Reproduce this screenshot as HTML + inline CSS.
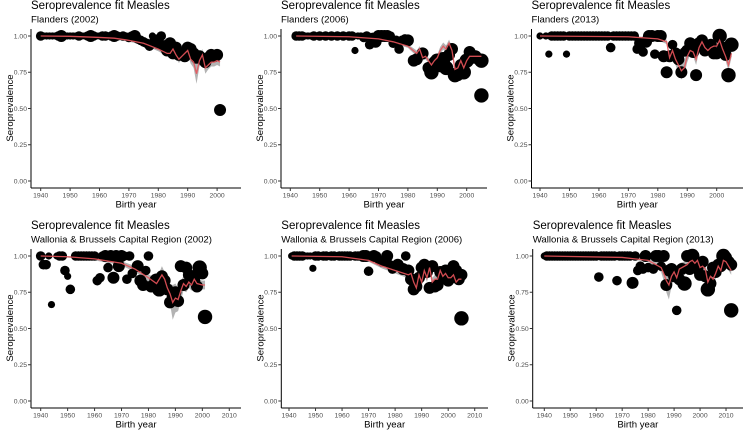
<!DOCTYPE html>
<html><head><meta charset="utf-8"><style>
body{margin:0;background:#fff;width:743px;height:430px;overflow:hidden;font-family:"Liberation Sans",Arial,sans-serif}
svg text{font-family:"Liberation Sans",Arial,sans-serif}
</style></head><body>
<svg id="c" width="743" height="430" xmlns="http://www.w3.org/2000/svg"></svg>
<script>
// Panel titles
const subtitles=["Flanders (2002)","Flanders (2006)","Flanders (2013)","Wallonia & Brussels Capital Region (2002)","Wallonia & Brussels Capital Region (2006)","Wallonia & Brussels Capital Region (2013)"];
const yTicks=[0,0.25,0.5,0.75,1.0];
const yTickLabels=["0.00","0.25","0.50","0.75","1.00"];
const xTicksTop=[1940,1950,1960,1970,1980,1990,2000];
const xTicksBottom=[1940,1950,1960,1970,1980,1990,2000,2010];

// Panel 1: Flanders 2002
const p1Years=[1940,1941,1942,1943,1944,1945,1946,1947,1948,1949,1950,1951,1952,1953,1954,1955,1956,1957,1958,1959,1960,1961,1962,1963,1964,1965,1966,1967,1968,1969,1970,1971,1972,1973,1974,1975,1976,1977,1978,1979,1980,1981,1982,1983,1984,1985,1986,1987,1988,1989,1990,1991,1992,1993,1994,1995,1996,1997,1998,1999,2000,2001];
const p1Prev=[1,1,1,1,1,1,1,1,1,1,1,1,1,1,1,1,1,1,1,1,1,1,1,1,1,1,1,1,1,1,0.99,1,1,0.98,0.97,0.96,0.95,0.93,1,0.97,0.95,1,0.93,0.9,0.95,0.88,0.92,0.87,0.88,0.86,0.92,0.91,0.88,0.85,0.86,0.84,0.82,0.85,0.87,0.86,0.87,0.49];
const p1Size=[3,2,2,2,2,2,3,4,2,2,2,2,2,3,2,2,3,4,3,2,2,3,3,2,3,4,3,2,3,2,3,3,4,3,3,3,3,3,2,4,4,3,4,4,4,4,4,4,4,4,4,4,4,4,4,4,4,4,4,4,4,4];
const p1FitYears=[1940,1950,1960,1965,1970,1975,1980,1983,1984,1985,1986,1987,1988,1989,1990,1991,1992,1993,1994,1995,1996,1997,1998,1999,2000,2001];
const p1Fit=[1,0.998,0.99,0.985,0.97,0.95,0.91,0.88,0.88,0.91,0.87,0.84,0.86,0.88,0.9,0.84,0.82,0.74,0.83,0.87,0.78,0.8,0.82,0.82,0.83,0.82];
const p1Band=[0.005,0.005,0.006,0.008,0.01,0.012,0.015,0.02,0.02,0.02,0.025,0.025,0.025,0.025,0.03,0.03,0.04,0.07,0.04,0.04,0.04,0.03,0.03,0.03,0.03,0.03];

// Panel 2: Flanders 2006
const p2Years=[1942,1943,1944,1945,1946,1947,1948,1949,1950,1951,1952,1953,1954,1955,1956,1957,1958,1959,1960,1961,1962,1963,1964,1965,1966,1967,1968,1969,1970,1971,1972,1973,1974,1975,1976,1977,1978,1979,1980,1982,1983,1985,1987,1988,1989,1990,1991,1992,1993,1994,1995,1996,1997,1998,1999,2000,2001,2002,2003,2004,2005,2005];
const p2Prev=[1,1,1,1,1,1,1,1,1,1,1,1,1,1,1,1,1,1,1,1,0.9,1,1,0.99,1,0.94,0.99,0.96,1,1,1,1,1,0.95,0.97,0.91,0.97,0.98,0.97,0.83,0.84,0.88,0.78,0.75,0.82,0.83,0.8,0.84,0.78,0.87,0.91,0.73,0.73,0.8,0.75,0.83,0.89,0.85,0.86,0.84,0.83,0.59];
const p2Size=[3,3,3,2,2,2,3,2,3,2,3,2,3,2,3,2,3,2,3,3,2,2,2,3,3,3,3,4,4,4,4,4,3,3,3,3,3,3,4,4,4,4,4,5,4,5,5,5,5,4,4,5,4,4,5,5,4,4,4,4,5,5];
const p2FitYears=[1942,1960,1970,1975,1980,1983,1984,1985,1986,1988,1989,1990,1991,1992,1993,1994,1995,1996,1997,1998,1999,2000,2001,2003,2005];
const p2Fit=[1,0.995,0.98,0.96,0.93,0.88,0.91,0.85,0.86,0.8,0.83,0.85,0.9,0.93,0.91,0.95,0.9,0.77,0.78,0.83,0.78,0.83,0.86,0.86,0.86];
const p2Band=[0.005,0.005,0.008,0.01,0.012,0.02,0.02,0.02,0.02,0.02,0.02,0.02,0.025,0.025,0.025,0.025,0.025,0.025,0.025,0.025,0.025,0.02,0.02,0.02,0.02];

// Panel 3: Flanders 2013
const p3Years=[1940,1942,1943,1944,1945,1946,1947,1948,1949,1950,1951,1952,1953,1954,1955,1956,1957,1958,1959,1960,1961,1962,1963,1964,1965,1966,1967,1968,1969,1970,1971,1972,1973,1974,1975,1976,1977,1978,1979,1980,1981,1982,1983,1984,1985,1986,1987,1988,1989,1990,1991,1992,1993,1994,1995,1996,1997,1998,1999,2000,2001,2002,2003,2004,2005];
const p3Prev=[1,1,0.875,1,1,1,1,1,0.875,1,1,1,1,1,1,1,1,1,1,1,1,1,1,0.92,1,1,1,1,1,1,1,1,0.91,0.95,0.89,0.96,1,1,0.875,1,1,0.86,0.75,0.86,0.94,0.88,0.84,0.75,0.89,0.9,0.95,0.89,0.73,0.95,0.97,0.9,0.92,0.94,0.88,0.88,1,0.92,0.87,0.73,0.94];
const p3Size=[2,2,2,3,3,3,3,3,2,3,3,3,3,3,3,3,3,3,3,3,3,3,3,3,3,3,3,3,3,3,3,3,3,4,3,4,4,4,3,4,4,4,4,4,3,4,4,4,3,4,4,4,4,4,4,4,4,4,4,4,5,4,4,5,5];
const p3FitYears=[1940,1970,1980,1983,1984,1985,1986,1987,1988,1989,1990,1991,1992,1993,1994,1995,1996,1997,1998,1999,2000,2001,2002,2003,2004,2005];
const p3Fit=[1,0.995,0.98,0.96,0.85,0.9,0.84,0.8,0.76,0.78,0.86,0.9,0.89,0.84,0.92,0.96,0.92,0.9,0.92,0.93,0.93,0.97,0.91,0.86,0.8,0.88];
const p3Band=[0.005,0.005,0.01,0.015,0.03,0.03,0.04,0.05,0.06,0.05,0.04,0.03,0.03,0.04,0.03,0.02,0.02,0.02,0.02,0.02,0.02,0.02,0.03,0.03,0.04,0.03];

// Panel 4: Wallonia & Brussels 2002
const p4Years=[1940,1941,1942,1943,1944,1946,1947,1948,1949,1950,1951,1953,1954,1955,1956,1957,1958,1959,1960,1961,1962,1963,1964,1965,1966,1967,1968,1969,1970,1971,1972,1973,1974,1976,1977,1978,1979,1980,1981,1983,1984,1985,1986,1987,1988,1989,1990,1991,1992,1993,1994,1995,1996,1997,1998,1999,2000,2001];
const p4Prev=[1,0.94,0.94,1,0.665,1,1,1,0.9,0.86,0.77,1,1,1,1,1,1,1,1,0.83,0.85,1,1,0.92,1,0.85,1,0.93,1,1,0.84,1,0.88,0.93,0.83,0.8,0.9,1,0.79,0.83,0.77,0.86,0.83,0.77,0.68,0.72,0.75,0.69,0.93,0.8,0.92,0.87,0.86,0.83,0.79,0.92,0.88,0.58];
const p4Size=[3,3,3,2,2,2,3,3,3,2,3,3,3,3,3,3,3,3,3,3,3,3,4,3,4,4,4,4,4,3,3,3,3,4,4,4,3,3,4,5,5,4,4,4,4,4,4,4,4,4,4,4,4,4,4,5,4,5];
const p4FitYears=[1940,1950,1960,1970,1975,1980,1983,1985,1986,1987,1988,1989,1990,1991,1992,1993,1994,1995,1996,1997,1998,2000,2001];
const p4Fit=[1,0.995,0.98,0.95,0.91,0.85,0.81,0.87,0.84,0.78,0.74,0.68,0.71,0.7,0.76,0.81,0.79,0.82,0.8,0.84,0.81,0.8,0.8];
const p4Band=[0.005,0.006,0.01,0.015,0.02,0.025,0.03,0.06,0.05,0.05,0.07,0.12,0.1,0.08,0.07,0.05,0.04,0.04,0.04,0.04,0.03,0.03,0.03];

// Panel 5: Wallonia & Brussels 2006
const p5Years=[1941,1942,1943,1944,1945,1946,1947,1948,1949,1950,1951,1952,1953,1954,1955,1956,1957,1958,1959,1960,1961,1962,1963,1964,1965,1966,1967,1968,1969,1970,1971,1972,1973,1974,1975,1976,1977,1978,1979,1980,1981,1982,1983,1984,1985,1986,1987,1988,1989,1990,1991,1992,1993,1994,1995,1996,1997,1998,1999,2000,2001,2002,2003,2004,2005,2005];
const p5Prev=[1,1,1,1,1,1,1,1,0.915,1,1,1,1,1,1,1,1,1,1,1,1,1,1,1,1,1,1,1,1,0.895,1,1,1,0.97,0.96,0.96,1,0.94,0.91,0.93,0.94,0.92,0.91,1,0.9,0.84,0.77,0.79,0.85,0.92,0.94,0.89,0.78,0.93,0.79,0.8,0.89,0.85,0.9,0.83,0.85,0.93,0.9,0.84,0.87,0.57];
const p5Size=[2,3,3,3,3,2,2,2,2,3,3,2,3,3,2,3,3,2,3,3,3,3,3,2,3,3,3,4,4,3,3,4,3,3,3,3,4,3,3,3,4,3,4,3,4,4,4,4,4,4,4,4,4,4,4,4,4,4,4,4,4,4,4,4,4,5];
const p5FitYears=[1941,1960,1970,1975,1980,1985,1986,1987,1988,1989,1990,1991,1992,1993,1994,1995,1996,1997,1998,1999,2000,2001,2002,2003,2004,2005];
const p5Fit=[1,0.995,0.97,0.93,0.9,0.87,0.88,0.82,0.78,0.87,0.82,0.9,0.85,0.92,0.82,0.84,0.84,0.9,0.86,0.88,0.85,0.85,0.87,0.82,0.84,0.84];
const p5Band=[0.005,0.005,0.01,0.015,0.02,0.025,0.03,0.04,0.05,0.04,0.03,0.03,0.03,0.03,0.03,0.03,0.03,0.03,0.03,0.03,0.03,0.02,0.02,0.02,0.02,0.02];

// Panel 6: Wallonia & Brussels 2013
const p6Years=[1940,1941,1942,1943,1944,1945,1946,1947,1948,1949,1950,1951,1952,1953,1954,1955,1956,1957,1958,1959,1960,1961,1962,1963,1964,1965,1966,1967,1968,1969,1970,1971,1972,1973,1974,1975,1976,1977,1978,1979,1980,1982,1983,1984,1985,1986,1987,1988,1989,1990,1991,1992,1993,1994,1995,1996,1997,1998,1999,2000,2001,2002,2003,2004,2005,2006,2007,2008,2009,2010,2011,2012,2012];
const p6Prev=[1,1,1,1,1,1,1,1,1,1,1,1,1,1,1,1,1,1,1,1,1,0.855,1,1,1,1,1,1,0.83,1,1,1,1,1,0.815,1,0.9,0.93,0.91,1,0.92,0.91,1,1,0.93,1,0.8,0.9,0.91,0.86,0.625,0.84,0.91,0.81,1,0.91,1,0.93,0.91,0.87,0.96,0.86,0.77,0.81,0.92,0.89,0.94,0.93,1,0.99,0.96,0.94,0.625];
const p6Size=[2,3,3,3,3,3,3,3,3,3,3,3,3,3,3,3,3,3,3,3,3,3,3,3,3,3,3,3,3,3,3,3,3,3,4,3,3,3,3,4,3,3,4,4,3,4,4,4,4,4,3,4,4,5,4,4,5,4,4,4,4,4,5,4,4,4,4,4,5,4,4,4,5];
const p6FitYears=[1940,1970,1980,1985,1986,1987,1988,1989,1990,1991,1992,1995,1996,1997,1998,1999,2000,2001,2002,2003,2004,2005,2006,2007,2008,2009,2010,2011,2012];
const p6Fit=[1,0.99,0.97,0.92,0.88,0.83,0.8,0.86,0.89,0.85,0.91,0.94,0.96,0.97,0.95,0.97,0.92,0.93,0.91,0.82,0.86,0.84,0.88,0.93,0.9,0.97,0.96,0.93,0.9];
const p6Band=[0.005,0.005,0.01,0.03,0.05,0.08,0.1,0.07,0.05,0.05,0.04,0.03,0.03,0.03,0.03,0.03,0.04,0.04,0.04,0.05,0.05,0.05,0.04,0.04,0.04,0.03,0.03,0.03,0.03];

const panels=[
 {ys:p1Years,pv:p1Prev,sz:p1Size,fy:p1FitYears,ff:p1Fit,fb:p1Band,ax:31,x0:40.7,k:2.94,xr:241,top:0,ticks:xTicksTop},
 {ys:p2Years,pv:p2Prev,sz:p2Size,fy:p2FitYears,ff:p2Fit,fb:p2Band,ax:281,x0:290.3,k:2.94,xr:487,top:0,ticks:xTicksTop},
 {ys:p3Years,pv:p3Prev,sz:p3Size,fy:p3FitYears,ff:p3Fit,fb:p3Band,ax:531.5,x0:540,k:2.945,xr:743,top:0,ticks:xTicksTop},
 {ys:p4Years,pv:p4Prev,sz:p4Size,fy:p4FitYears,ff:p4Fit,fb:p4Band,ax:31,x0:40.7,k:2.694,xr:241,top:220,ticks:xTicksBottom},
 {ys:p5Years,pv:p5Prev,sz:p5Size,fy:p5FitYears,ff:p5Fit,fb:p5Band,ax:281.3,x0:289,k:2.653,xr:488,top:220,ticks:xTicksBottom},
 {ys:p6Years,pv:p6Prev,sz:p6Size,fy:p6FitYears,ff:p6Fit,fb:p6Band,ax:532.7,x0:544.3,k:2.596,xr:743,top:220,ticks:xTicksBottom}
];
const NS="http://www.w3.org/2000/svg";
const svg=document.getElementById('c');
function mk(tag,attrs,parent,txt){const e=document.createElementNS(NS,tag);for(const a in attrs)e.setAttribute(a,attrs[a]);if(txt!==undefined)e.textContent=txt;parent.appendChild(e);return e;}
panels.forEach((p,i)=>{
 const g=mk('g',{},svg);
 
 
 const X=yr=>p.x0+(yr-1940)*p.k;
 const Y=v=>p.top+181-v*145;
 const t=mk('text',{x:p.ax,y:p.top+9,'font-size':'11.5',fill:'#000'},g,'Seroprevalence fit Measles');
 
 
 const st=mk('text',{x:p.ax,y:p.top+22.5,'font-size':'9.6',fill:'#000'},g,subtitles[i]);
 
 
 // band
 let up=p.fy.map((y,j)=>X(y)+','+Y(Math.min(1,p.ff[j]+p.fb[j]))).join(' ');
 let lo=p.fy.map((y,j)=>X(y)+','+Y(p.ff[j]-p.fb[j])).reverse().join(' ');
 const band=mk('polygon',{points:up+' '+lo,fill:'#b3b3b3'},g);
 
 
 // points
 p.ys.forEach((y,j)=>{
  const c=mk('circle',{cx:X(y),cy:Y(p.pv[j]),r:1.2+p.sz[j]*1.2,fill:'#000'},g);
  
  
 });
 const ln=mk('polyline',{points:p.fy.map((y,j)=>X(y)+','+Y(p.ff[j])).join(' '),fill:'none',stroke:'#e8535a','stroke-width':'1.3',opacity:'0.9'},g);
 
 
 // axes
 const ya=mk('line',{x1:p.ax,y1:p.top+29,x2:p.ax,y2:p.top+188,stroke:'#000','stroke-width':'1'},g);
 
 
 const xa=mk('line',{x1:p.ax,y1:p.top+188,x2:p.xr,y2:p.top+188,stroke:'#000','stroke-width':'1'},g);
 
 
 yTicks.forEach((v,j)=>{
  mk('line',{x1:p.ax-3,y1:Y(v),x2:p.ax,y2:Y(v),stroke:'#333'},g);
  const tl=mk('text',{x:p.ax-4,y:Y(v)+2.4,'font-size':'6.8',fill:'#4d4d4d','text-anchor':'end'},g,yTickLabels[j]);
  
  
 });
 p.ticks.forEach(v=>{
  mk('line',{x1:X(v),y1:p.top+188,x2:X(v),y2:p.top+191,stroke:'#333'},g);
  const tl=mk('text',{x:X(v),y:p.top+197.5,'font-size':'6.8',fill:'#4d4d4d','text-anchor':'middle'},g,String(v));
  
  
 });
 const xt=mk('text',{x:(p.ax+p.xr)/2,y:p.top+207.5,'font-size':'9.6',fill:'#000','text-anchor':'middle'},g,'Birth year');
 
 
 const yx=p.ax-18, yy=p.top+108;
 const yt=mk('text',{x:yx,y:yy,'font-size':'9.6',fill:'#000','text-anchor':'middle',transform:'rotate(-90 '+yx+' '+yy+')'},g,'Seroprevalence');
 
 
});
</script>
</body></html>
